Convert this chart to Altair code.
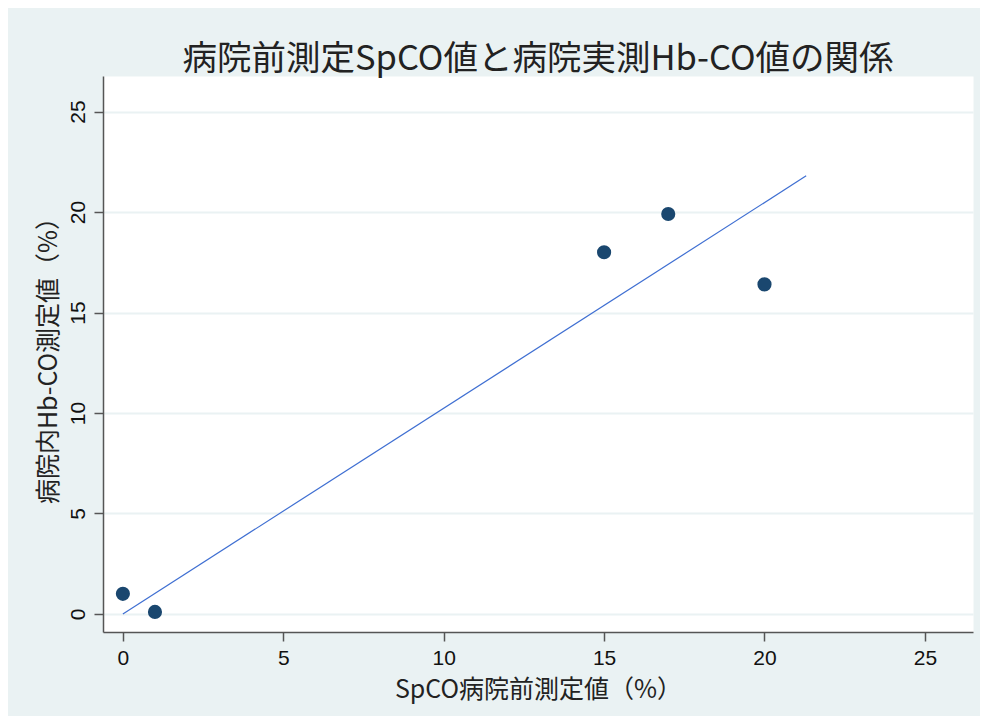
import altair as alt
import pandas as pd

# data
spco = [0, 1, 15, 17, 20]
hbco = [1.0, 0.1, 18.0, 19.9, 16.4]
fit_x = [0, 21.3]
fit_y = [0, 21.8]
ticks = [0, 5, 10, 15, 20, 25]

title_text = "病院前測定SpCO値と病院実測Hb-CO値の関係"
x_title = "SpCO病院前測定値（%）"
y_title = "病院内Hb-CO測定値（%）"

pts = pd.DataFrame({"x": spco, "y": hbco})
fit = pd.DataFrame({"x": fit_x, "y": fit_y})

xscale = alt.Scale(domain=[-0.62, 26.5], nice=False, zero=False)
yscale = alt.Scale(domain=[-0.9, 26.77], nice=False, zero=False)

xaxis = alt.Axis(values=ticks, grid=False, title=x_title, labelPadding=6, titlePadding=9)
yaxis = alt.Axis(values=ticks, grid=True, title=y_title, labelAngle=270, labelPadding=6,
                 titlePadding=6, gridColor="#EAF2F3", gridWidth=2)

line = alt.Chart(fit).mark_line(color="#3F6FD2", strokeWidth=1.2).encode(
    x=alt.X("x:Q", scale=xscale, axis=xaxis),
    y=alt.Y("y:Q", scale=yscale, axis=yaxis),
)
points = alt.Chart(pts).mark_circle(color="#1A476F", size=200, opacity=1).encode(
    x=alt.X("x:Q", scale=xscale),
    y=alt.Y("y:Q", scale=yscale),
)

chart = (
    alt.layer(line, points)
    .properties(
        width=870,
        height=556,
        padding={"left": 95, "top": 68, "right": 7, "bottom": 84},
        autosize=alt.AutoSizeParams(type="none"),
        background="#EAF2F3",
        title=alt.TitleParams(
            text=title_text,
            fontSize=34.5,
            font="Noto Sans CJK JP",
            fontWeight="normal",
            color="#222222",
            anchor="middle",
            offset=-1,
        ),
    )
    .configure_view(fill="white", strokeOpacity=0)
    .configure_axis(
        domainColor="#555555",
        domainWidth=1.5,
        tickColor="#555555",
        tickWidth=1.5,
        tickSize=9,
        labelFont="Liberation Sans",
        labelFontSize=21,
        labelColor="#111111",
        titleFont="Noto Sans CJK JP",
        titleFontSize=25,
        titleFontWeight="normal",
        titleColor="#222222",
    )
)

chart.save("out.html", embed_options={"renderer": "svg", "actions": False})
